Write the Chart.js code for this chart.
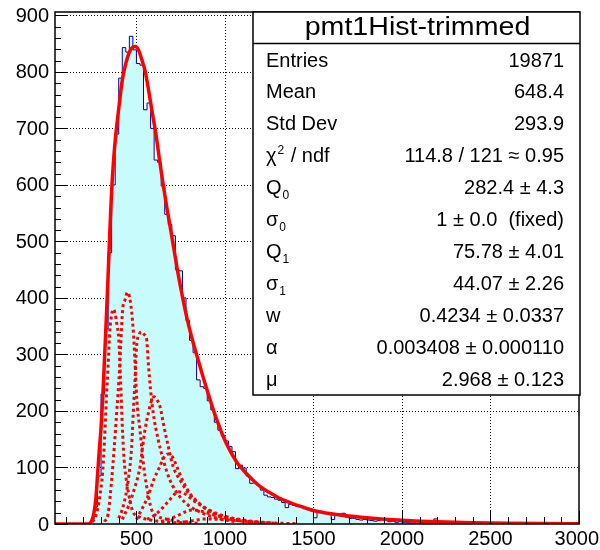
<!DOCTYPE html>
<html>
<head>
<meta charset="utf-8">
<script src="https://cdn.jsdelivr.net/npm/chart.js@4.4.0/dist/chart.umd.min.js"></script>
<style>
  html, body { margin: 0; padding: 0; background: #fff; }
  #wrap { width: 600px; height: 550px; }
</style>
</head>
<body>
<div id="wrap"><canvas id="myChart" width="600" height="550"></canvas></div>
<script>
// --- Histogram: 20 wide bins starting at 40 ---
const histStart = 40;
const binWidth = 20;
const histCounts = [
  0, 0, 0, 0, 0, 0, 0, 0, 0, 0,
  4, 30, 85, 230, 345, 480, 600, 690, 789, 843,
  835, 863, 839, 815, 812, 733, 745, 700, 644, 640,
  598, 548, 530, 510, 450, 448, 400, 360, 325, 303,
  255, 243, 240, 218, 202, 180, 166, 156, 147, 137,
  128, 98, 104, 99, 85, 72, 73, 68, 60, 51,
  48, 47, 44, 42, 38, 29, 35, 33, 31, 30,
  27, 25, 23, 11, 21, 22, 19, 17, 8, 16,
  15, 19, 12, 10, 10, 8, 7, 8, 7, 6,
  5, 6, 8, 9, 4, 5, 3, 4, 3, 3,
  2, 2, 1, 2, 1, 1, 1, 9, 1, 1,
  0, 1, 0, 1, 0, 0, 1, 0, 0, 1,
  0, 0, 0, 0, 0, 0, 0, 0, 0, 0,
  0, 0, 0, 0, 0, 0, 0, 0, 0, 0,
  0, 0, 0, 0, 0, 0, 0, 0
];

// --- Fit curve (solid red) ---
const fitX = [40, 230, 240, 250, 260, 270, 280, 290, 300, 310, 320, 330, 340, 350, 360, 370, 380, 390, 400, 420, 440,
  460, 480, 495, 510, 530, 550, 570, 590, 610, 630, 650, 670, 690, 710, 730, 750, 770, 790, 810, 830,
  850, 870, 890, 910, 930, 950, 970, 990, 1010, 1030, 1050, 1070, 1090, 1110, 1150, 1200, 1250, 1300, 1350, 1400,
  1450, 1500, 1600, 1700, 1800, 1900, 2000, 2100, 2200, 2300, 2400, 2500, 2600, 2800, 3000];
const fitY = [0, 0, 2, 8, 20, 42, 85, 130, 170, 225, 295, 365, 440, 520, 590, 640, 678, 708, 735, 785, 815,
  835, 844, 845, 840, 822, 800, 765, 727, 690, 645, 603, 563, 527, 490, 452, 418, 387, 358, 333, 310,
  289, 267, 246, 226, 206, 188, 171, 155, 141, 129, 118, 108, 100, 93, 80, 66, 56, 47, 40, 34,
  29, 24, 18, 14, 11, 8.5, 6.5, 5, 3.8, 2.9, 2.2, 1.6, 1.2, 0.7, 0.4];

// --- Fit components (dotted red) ---
const comp1X = [250, 270, 290, 310, 320, 330, 340, 350, 360, 369, 380, 390, 400, 410, 420, 430, 440, 455, 480, 520, 580, 680, 800];
const comp1Y = [4, 14, 42, 95, 150, 220, 280, 343, 370, 380, 372, 352, 328, 258, 175, 115, 85, 55, 22, 12, 7, 3, 1];
const comp2X = [320, 340, 360, 375, 388, 401, 411, 422, 435, 450, 465, 482, 492, 501, 520, 539, 558, 586, 620, 680, 760, 860];
const comp2Y = [4, 18, 78, 137, 196, 255, 314, 379, 396, 410, 395, 343, 285, 225, 166, 108, 66, 25, 14, 8, 4, 1];
const comp3X = [400, 425, 454, 473, 482, 492, 501, 515, 529, 545, 558, 567, 580, 595, 623, 652, 689, 746, 802, 876, 960, 1060];
const comp3Y = [10, 31, 78, 137, 196, 255, 314, 335, 340, 335, 326, 285, 237, 196, 149, 113, 78, 48, 31, 19, 10, 4];
const comp4X = [420, 454, 492, 520, 535, 548, 567, 585, 600, 615, 633, 652, 680, 708, 746, 800, 870, 960, 1080];
const comp4Y = [8, 31, 66, 101, 137, 166, 196, 218, 225, 220, 208, 178, 137, 101, 78, 52, 32, 16, 6];
const comp5X = [500, 520, 560, 600, 630, 655, 680, 705, 730, 760, 800, 850, 900, 960, 1050, 1150];
const comp5Y = [8, 20, 45, 80, 100, 118, 124, 118, 100, 78, 55, 38, 25, 15, 7, 3];
const comp6X = [560, 620, 680, 720, 740, 770, 820, 880, 950, 1050, 1150, 1250];
const comp6Y = [8, 20, 40, 54, 57, 54, 42, 30, 19, 10, 5, 2];
const comp7X = [640, 720, 780, 815, 860, 940, 1040, 1150, 1300];
const comp7Y = [4, 13, 22, 25, 23, 16, 9, 4, 1];
const comp8X = [740, 820, 890, 980, 1100, 1250, 1400];
const comp8Y = [2, 6, 9, 8, 5, 2, 0.5];

// --- Axes ---
const xMajorTicks = [500, 1000, 1500, 2000, 2500, 3000];
const yMajorTicks = [0, 100, 200, 300, 400, 500, 600, 700, 800, 900];
const xMinorStep = 100;
const yMinorStep = 20;

// --- Stats box ---
const statsTitle = "pmt1Hist-trimmed";
const statsNames = ["Entries", "Mean", "Std Dev", "χ^{2} / ndf", "Q_{0}", "σ_{0}", "Q_{1}", "σ_{1}", "w", "α", "μ"];
const statsValues = ["19871", "648.4", "293.9", "114.8 / 121 ≈ 0.95", "282.4 ± 4.3", "1 ± 0.0  (fixed)",
  "75.78 ± 4.01", "44.07 ± 2.26", "0.4234 ± 0.0337", "0.003408 ± 0.000110", "2.968 ± 0.123"];

const FONT = '"Liberation Sans", Arial, Helvetica, sans-serif';

// --- Build datasets ---
// each bin is a point at its left edge, plus one closing point at the last right edge
const histPoints = histCounts.map((c, i) => ({ x: histStart + i * binWidth, y: c }));
histPoints.push({ x: histStart + histCounts.length * binWidth, y: histCounts[histCounts.length - 1] });

const toPoints = (xs, ys) => xs.map((x, i) => ({ x: x, y: ys[i] }));

const components = [
  [comp1X, comp1Y], [comp2X, comp2Y], [comp3X, comp3Y], [comp4X, comp4Y],
  [comp5X, comp5Y], [comp6X, comp6Y], [comp7X, comp7Y], [comp8X, comp8Y]
];

const datasets = [];
datasets.push({
  data: toPoints(fitX, fitY),
  borderColor: '#ff0000',
  borderWidth: 3.5,
  cubicInterpolationMode: 'monotone',
  fill: false,
  order: 0
});
components.forEach(([xs, ys]) => {
  datasets.push({
    data: toPoints(xs, ys),
    borderColor: '#ff0000',
    borderWidth: 3,
    borderDash: [3, 3],
    cubicInterpolationMode: 'monotone',
    fill: false,
    order: 1
  });
});
datasets.push({
  data: histPoints,
  stepped: 'before',
  borderColor: '#000099',
  borderWidth: 1,
  backgroundColor: 'rgb(200, 252, 252)',
  fill: 'origin',
  order: 2
});

// --- Rich text: _{sub} and ^{sup} ---
function drawRich(ctx, str, x, y, size) {
  const re = /([_^])\{([^}]*)\}/g;
  let last = 0, m, cx = x;
  ctx.textAlign = 'left';
  while ((m = re.exec(str))) {
    const plain = str.slice(last, m.index);
    ctx.font = size + 'px ' + FONT;
    ctx.fillText(plain, cx, y);
    cx += ctx.measureText(plain).width + 1;
    ctx.font = Math.round(size * 0.62) + 'px ' + FONT;
    ctx.fillText(m[2], cx, m[1] === '_' ? y + 7 : y - 6);
    cx += ctx.measureText(m[2]).width + 1;
    last = re.lastIndex;
  }
  ctx.font = size + 'px ' + FONT;
  ctx.fillText(str.slice(last), cx, y);
}

// --- ROOT style frame, grid, ticks, stats ---
const rootFrame = {
  id: 'rootFrame',
  beforeDatasetsDraw(chart) {
    const { ctx, chartArea: a, scales: { x, y } } = chart;
    ctx.save();
    ctx.strokeStyle = '#000';
    ctx.lineWidth = 1;
    ctx.setLineDash([1, 2]);
    ctx.beginPath();
    xMajorTicks.forEach(v => {
      const px = Math.round(x.getPixelForValue(v)) + 0.5;
      if (px < a.right - 1) { ctx.moveTo(px, a.top); ctx.lineTo(px, a.bottom); }
    });
    yMajorTicks.forEach(v => {
      const py = Math.round(y.getPixelForValue(v)) + 0.5;
      if (v > 0) { ctx.moveTo(a.left, py); ctx.lineTo(a.right, py); }
    });
    ctx.stroke();
    ctx.restore();
  },
  afterDatasetsDraw(chart) {
    const { ctx, chartArea: a, scales: { x, y } } = chart;
    ctx.save();
    ctx.strokeStyle = '#000';
    ctx.fillStyle = '#000';
    ctx.lineWidth = 1;
    ctx.beginPath();
    // x ticks
    for (let v = xMinorStep; v <= 3000; v += xMinorStep) {
      const px = Math.round(x.getPixelForValue(v)) + 0.5;
      const len = v % 500 === 0 ? 13 : 7;
      ctx.moveTo(px, a.bottom);
      ctx.lineTo(px, a.bottom - len);
    }
    // y ticks
    for (let v = 0; v <= 900; v += yMinorStep) {
      const py = Math.round(y.getPixelForValue(v)) + 0.5;
      const len = v % 100 === 0 ? 13 : 6;
      ctx.moveTo(a.left, py);
      ctx.lineTo(a.left + len, py);
    }
    ctx.stroke();

    // frame
    ctx.lineWidth = 1.5;
    ctx.strokeRect(a.left, a.top, a.right - a.left, a.bottom - a.top);

    // tick labels
    ctx.font = '20px ' + FONT;
    ctx.textBaseline = 'middle';
    ctx.textAlign = 'right';
    yMajorTicks.forEach(v => {
      ctx.fillText(String(v), a.left - 6, y.getPixelForValue(v) + 1);
    });
    ctx.textAlign = 'center';
    xMajorTicks.forEach(v => {
      const label = String(v);
      const w = ctx.measureText(label).width;
      const px = Math.min(x.getPixelForValue(v), 599 - w / 2);
      ctx.fillText(label, px, a.bottom + 15);
    });

    // stats box
    const bx = 253, by = 12, bw = 327, bh = 383;
    ctx.fillStyle = '#fff';
    ctx.fillRect(bx, by, bw, bh);
    ctx.lineWidth = 1.5;
    ctx.strokeRect(bx, by, bw, bh);
    ctx.beginPath();
    ctx.moveTo(bx, 43.5);
    ctx.lineTo(bx + bw, 43.5);
    ctx.stroke();

    ctx.fillStyle = '#000';
    // title is a bit wider than plain Arial in the original
    ctx.save();
    ctx.translate(bx + bw / 2 + 1, 28);
    ctx.scale(1.1, 1);
    ctx.textAlign = 'center';
    ctx.font = '26px ' + FONT;
    ctx.fillText(statsTitle, 0, 0);
    ctx.restore();

    statsNames.forEach((name, i) => {
      const rowY = 61 + i * 31.9;
      drawRich(ctx, name, 266, rowY, 20);
      ctx.font = '20px ' + FONT;
      ctx.textAlign = 'right';
      ctx.fillText(statsValues[i], 564, rowY);
    });
    ctx.restore();
  }
};

const ctx = document.getElementById("myChart");
const chart = new Chart(ctx, {
  type: "line",
  data: { datasets: datasets },
  options: {
    responsive: false,
    animation: false,
    layout: { padding: { left: 55, right: 21, top: 12, bottom: 26 } },
    plugins: { legend: { display: false }, tooltip: { enabled: false } },
    elements: { point: { radius: 0 } },
    scales: {
      x: { type: "linear", min: 40, max: 3000, display: false },
      y: { type: "linear", min: 0, max: 906, display: false }
    }
  },
  plugins: [rootFrame]
});
</script>
</body>
</html>
